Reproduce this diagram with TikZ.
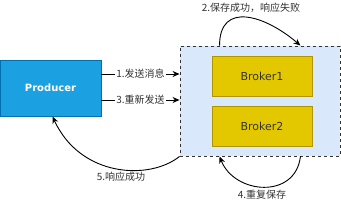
\documentclass[tikz,border=0pt]{standalone}
\usepackage{fontspec}
\setmainfont{Noto Sans CJK SC}
\newfontfamily\boxfont{DejaVu Sans}
\usetikzlibrary{arrows.meta,positioning}
\definecolor{prodfill}{HTML}{1BA1E2}
\definecolor{proddraw}{HTML}{006EAF}
\definecolor{brokerfill}{HTML}{E3C800}
\definecolor{brokerdraw}{HTML}{B09500}
\definecolor{groupfill}{HTML}{DAE8FC}
\definecolor{txtgray}{HTML}{333333}

\begin{document}
\begin{tikzpicture}[x=1pt,y=-1pt,line width=0.9pt,
    lbl/.style={text=txtgray,font=\fontsize{10}{12}\selectfont,inner sep=1pt},
    flow/.style={draw=black,-{Stealth[length=7pt,width=6pt]}},
    broker/.style={draw=brokerdraw,fill=brokerfill,minimum width=100pt,minimum height=40pt,
        font=\boxfont\fontsize{11}{13}\selectfont,text=txtgray}]
    \useasboundingbox (0,0) rectangle (341,203);
    % producer and broker group
    \node[draw=proddraw,fill=prodfill,minimum width=101pt,minimum height=56pt,
        text=white,font=\boxfont\bfseries\fontsize{10}{12}\selectfont] (producer) at (50.5,88) {Producer};
    \node[draw=black!80,dashed,fill=groupfill,minimum width=160pt,minimum height=110pt] (group) at (260,101) {};
    \node[broker] (broker1) at (262,76) {Broker1};
    \node[broker] (broker2) at (262,126) {Broker2};
    % sending
    \coordinate (s1) at ([yshift=14pt]producer.east);
    \coordinate (s3) at ([yshift=-12pt]producer.east);
    \draw[flow] (s1) -- (s1 -| group.west) node[midway,lbl,fill=white] (l1) {1.发送消息};
    \draw[flow] (s3) -- (s3 -| group.west) node[midway,lbl,fill=white] (l3) {3.重新发送};
    % save, then repeat
    \coordinate (t2) at ([xshift=40pt]group.north west);
    \coordinate (h2) at ([xshift=-40pt]group.north east);
    \draw[flow] (t2) .. controls +(0,-45) and +(-35,-30) .. (h2);
    \node[lbl] (l2) at (251,8) {2.保存成功，响应失败};
    \coordinate (t4) at ([xshift=-40pt]group.south east);
    \coordinate (h4) at ([xshift=40pt]group.south west);
    \draw[flow] (t4) .. controls +(-5,43) and +(15,38) .. (h4);
    \node[lbl] (l4) at (262,195) {4.重复保存};
    % reply
    \coordinate (h5) at ([xshift=2pt]producer.south);
    \draw[flow] (group.south west) .. controls +(-30,24) and +(28,61) .. (h5);
    \node[lbl] (l5) at (121,177) {5.响应成功};
\end{tikzpicture}
\end{document}
